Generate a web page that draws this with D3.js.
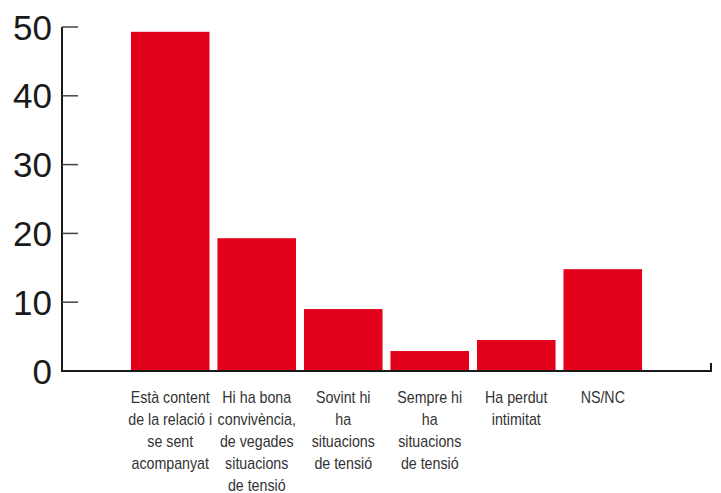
<!DOCTYPE html>
<html>
<head>
<meta charset="utf-8">
<script src="https://cdn.jsdelivr.net/npm/d3@7"></script>
<style>
  body { margin: 0; background: #fff; }
  .ylab { font-family: "Liberation Sans", Arial, sans-serif; font-size: 35px; fill: #1a1a1a; }
  .xlab { font-family: "Liberation Sans", Arial, sans-serif; font-size: 16px; fill: #333; }
</style>
</head>
<body>
<div class="chart"></div>
<script>
// dades
const categories = [
    ["Està content", "de la relació i", "se sent", "acompanyat"],
    ["Hi ha bona", "convivència,", "de vegades", "situacions", "de tensió"],
    ["Sovint hi", "ha", "situacions", "de tensió"],
    ["Sempre hi", "ha", "situacions", "de tensió"],
    ["Ha perdut", "intimitat"],
    ["NS/NC"]
];
const values = [49.3, 19.3, 9.0, 2.9, 4.5, 14.8];
const yTicks = [0, 10, 20, 30, 40, 50];

const width = 721, height = 493;
const x0 = 62, x1 = 711, yBottom = 371, yTop = 27;

const svg = d3.select(".chart").append("svg")
    .attr("width", width)
    .attr("height", height);

const x = d3.scaleBand()
    .domain(d3.range(values.length))
    .range([x0, x1])
    .paddingInner(0.092)
    .paddingOuter(0.797);

const y = d3.scaleLinear()
    .domain([0, 50])
    .range([yBottom, yTop]);

// barres
svg.selectAll("rect.bar")
    .data(values)
    .enter()
    .append("rect")
    .attr("class", "bar")
    .attr("x", (d, i) => x(i))
    .attr("y", d => y(d))
    .attr("width", x.bandwidth())
    .attr("height", d => yBottom - y(d))
    .attr("fill", "#e2001a");

// eix y
svg.append("line")
    .attr("x1", x0).attr("x2", x0)
    .attr("y1", yTop).attr("y2", yBottom + 1)
    .attr("stroke", "#1a1a1a")
    .attr("stroke-width", 2);

svg.selectAll("line.tick")
    .data(yTicks)
    .enter()
    .append("line")
    .attr("class", "tick")
    .attr("x1", x0).attr("x2", x0 + 16)
    .attr("y1", d => y(d)).attr("y2", d => y(d))
    .attr("stroke", "#444")
    .attr("stroke-width", 1.5);

svg.selectAll("text.ylab")
    .data(yTicks)
    .enter()
    .append("text")
    .attr("class", "ylab")
    .attr("x", 52)
    .attr("y", d => y(d))
    .attr("dy", "0.36em")
    .attr("text-anchor", "end")
    .text(d => d);

// eix x
svg.append("line")
    .attr("x1", x0 - 1).attr("x2", x1 + 1)
    .attr("y1", yBottom).attr("y2", yBottom)
    .attr("stroke", "#1a1a1a")
    .attr("stroke-width", 2);

svg.append("line")
    .attr("x1", x1).attr("x2", x1)
    .attr("y1", yBottom).attr("y2", yBottom - 8)
    .attr("stroke", "#1a1a1a")
    .attr("stroke-width", 2);

// etiquetes (condensades amb scale)
const labels = svg.selectAll("text.xlab")
    .data(categories)
    .enter()
    .append("text")
    .attr("class", "xlab")
    .attr("text-anchor", "middle")
    .attr("transform", (d, i) => `translate(${x(i) + x.bandwidth() / 2},403) scale(0.89,1)`);

labels.selectAll("tspan")
    .data(d => d)
    .enter()
    .append("tspan")
    .attr("x", 0)
    .attr("dy", (d, i) => i === 0 ? 0 : 22.1)
    .text(d => d);
</script>
</body>
</html>
